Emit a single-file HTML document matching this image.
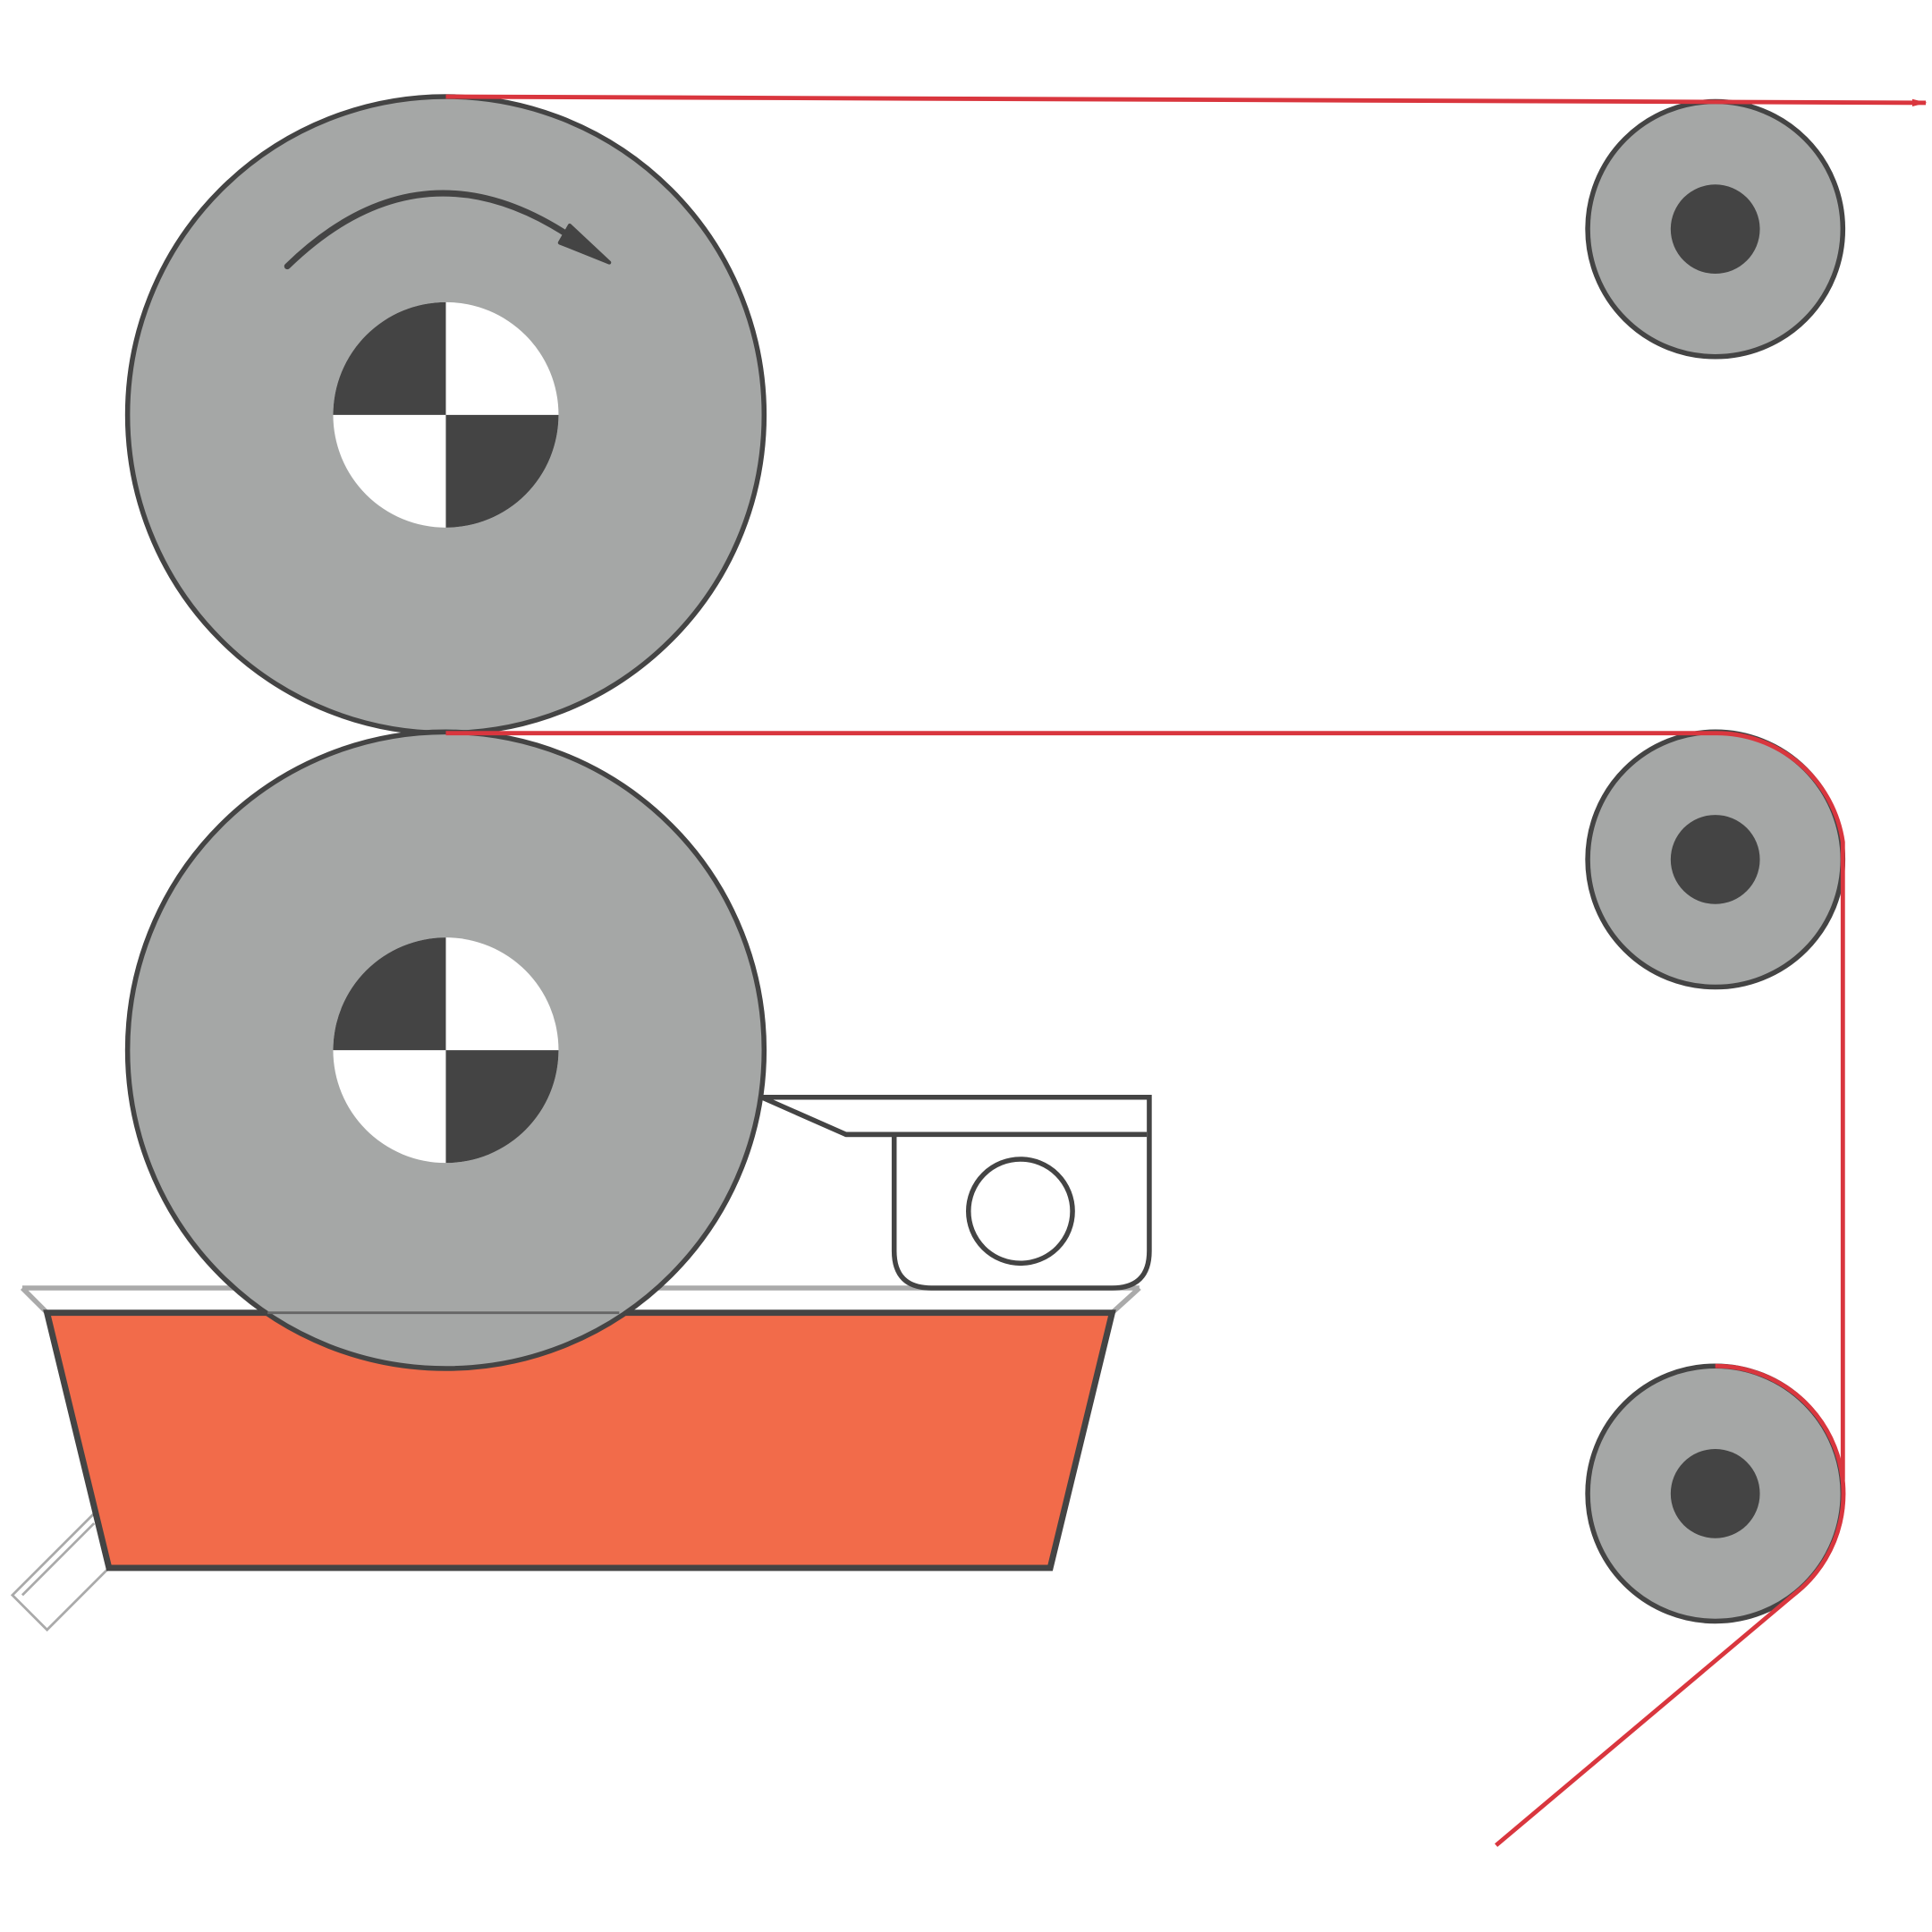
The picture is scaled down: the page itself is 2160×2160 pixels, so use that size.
<!DOCTYPE html>
<html><head><meta charset="utf-8"><style>html,body{margin:0;padding:0;background:#fff}svg{display:block}</style></head>
<body>
<svg width="2160" height="2160" viewBox="0 0 1560 1560" xmlns="http://www.w3.org/2000/svg">
<defs><marker id="ah" markerWidth="12" markerHeight="8" refX="11" refY="4" orient="auto" markerUnits="userSpaceOnUse"><path d="M0,1 L12,4 L0,7 Z" fill="#d9363e"/></marker></defs>
<g stroke="#aaa" stroke-width="2" fill="#fff">
<path d="M76,1222 L10,1288 L38,1316 L88,1266"/>
<path d="M76,1230 L18,1288"/>
</g>
<path d="M18,1040 L920,1040 M18,1040 L38,1060 M920,1040 L898,1060" stroke="#aaa" stroke-width="4" fill="none"/>
<polygon points="38,1060 898,1060 848,1266 88,1266" fill="#f26b4a" stroke="#444" stroke-width="5"/>
<g fill="#fff" stroke="#444" stroke-width="4">
<path d="M615,886 L928,886 L928,1010 Q928,1040 898,1040 L752,1040 Q722,1040 722,1010 L722,916 L683,916 Z"/>
<path d="M683,916 L926,916" fill="none"/>
<circle cx="824" cy="978" r="42"/>
</g>
<g stroke="#444" stroke-width="4">
<circle cx="360" cy="335" r="257" fill="#a5a7a6"/>
<circle cx="360" cy="848" r="257" fill="#a5a7a6"/>
</g>
<path d="M216,1060 L500,1060" stroke="#666" stroke-width="2"/>
<g>
<circle cx="360" cy="335" r="91" fill="#fff"/>
<path d="M360,335 L360,244 A91,91 0 0 0 269,335 Z" fill="#444"/>
<path d="M360,335 L451,335 A91,91 0 0 1 360,426 Z" fill="#444"/>
<circle cx="360" cy="848" r="91" fill="#fff"/>
<path d="M360,848 L360,757 A91,91 0 0 0 269,848 Z" fill="#444"/>
<path d="M360,848 L451,848 A91,91 0 0 1 360,939 Z" fill="#444"/>
</g>
<path d="M232,215 Q340,110 462,192" fill="none" stroke="#444" stroke-width="5" stroke-linecap="round"/>
<polygon points="452,196 460,182 492,212" fill="#444" stroke="#444" stroke-width="3" stroke-linejoin="round"/>
<g stroke="#444" stroke-width="4" fill="#a5a7a6">
<circle cx="1385" cy="185" r="103"/>
<circle cx="1385" cy="694" r="103"/>
<circle cx="1385" cy="1206" r="103"/>
</g>
<g fill="#444">
<circle cx="1385" cy="185" r="36"/>
<circle cx="1385" cy="694" r="36"/>
<circle cx="1385" cy="1206" r="36"/>
</g>
<g stroke="#d9363e" stroke-width="3.5" fill="none">
<path d="M360,78 L1555,83" marker-end="url(#ah)"/>
<path d="M360,592 L1385,592 A103,103 0 0 1 1488,680 L1488,1195"/>
<path d="M1385,1103 A103,103 0 0 1 1455,1282 L1208,1490"/>
</g>
</svg>
</body></html>
